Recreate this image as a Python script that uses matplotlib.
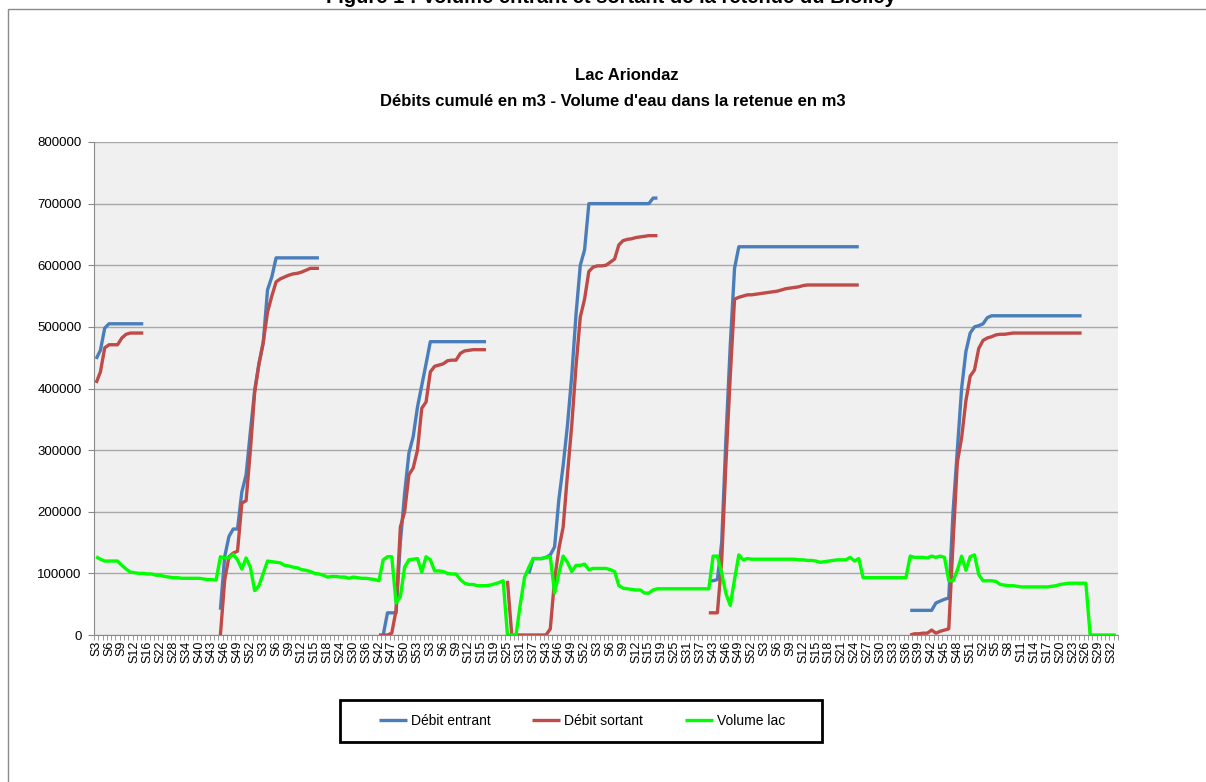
import numpy as np
import matplotlib.pyplot as plt
from matplotlib.lines import Line2D
from matplotlib.patches import Rectangle

plt.rcParams['font.family'] = ['Liberation Sans', 'DejaVu Sans']

# numéros de semaine, saison par saison
saison1 = list(range(3, 15)) + [16, 18, 20, 22, 24, 26, 28, 30, 32, 34, 36, 38, 40] \
    + list(range(41, 53)) + [1, 2]
saison2 = list(range(3, 19)) + [20, 22, 24, 26, 28, 30, 32, 34, 36, 38, 40, 42, 44, 46] \
    + list(range(47, 54)) + [1, 2]
saison3 = list(range(3, 16)) + [16, 18, 19, 21, 23, 25, 27, 29, 31, 33, 35, 37, 39, 41, 43] \
    + list(range(44, 53)) + [1, 2]
saison4 = list(saison3)
saison5 = list(range(3, 53))
saison6 = list(range(1, 34))
semaines = saison1 + saison2 + saison3 + saison4 + saison5 + saison6

# débit entrant cumulé (m3)
debit_entrant = (
    [448000, 462000, 498000] + [505000] * 9
    + [None] * 17
    + [41000, 127000, 160000, 172000, 172000, 232000, 260000, 330000, 397000, 440000,
       474000, 560000, 581000] + [612000] * 11
    + [None] * 14
    + [0, 36000, 36000, 36000, 150000, 230000, 295000, 322000, 370000, 405000, 440000]
    + [476000] * 14
    + [None] * 9
    + [100000, 124000, 124000, 124000, 126000, 130000, 143000, 220000, 275000, 340000,
       420000, 520000, 600000, 625000] + [700000] * 15 + [709000, 709000]
    + [None] * 11
    + [88000, 88000, 90000, 150000, 320000, 470000, 595000] + [630000] * 29
    + [None] * 11
    + [40000] * 6 + [52000, 55000, 58000, 60000, 200000, 300000, 400000, 460000, 490000,
                     500000, 502000, 505000, 515000] + [518000] * 22
    + [None] * 8
)

# débit sortant cumulé (m3)
debit_sortant = (
    [409000, 427000, 466000, 471000, 471000, 471000, 482000, 488000] + [490000] * 4
    + [None] * 17
    + [0, 89000, 127000, 133000, 136000, 214000, 218000, 300000, 394000, 440000,
       475000, 524000, 550000, 573000, 578000, 581000, 584000, 586000, 587000, 589000,
       592000, 595000, 595000, 595000]
    + [None] * 13
    + [0, 0, 0, 3000, 40000, 175000, 200000, 260000, 271000, 300000, 368000, 378000,
       427000, 436000, 438000, 440000, 445000, 446000, 446000, 457000, 461000, 462000,
       463000, 463000, 463000, 463000]
    + [None] * 4
    + [88000] + [0] * 9
    + [10000, 90000, 140000, 175000, 260000, 340000, 436000, 516000, 545000, 590000,
       597000, 599000, 599000, 600000, 605000, 610000, 633000, 640000, 642000, 643000,
       645000, 646000, 647000, 648000, 648000, 648000]
    + [None] * 11
    + [36000, 36000, 36000, 120000, 280000, 420000, 545000, 548000, 550000, 552000,
       552000, 553000, 554000, 555000, 556000, 557000, 558000, 560000, 562000, 563000,
       564000, 565000, 567000] + [568000] * 13
    + [None] * 11
    + [0, 2000, 2000, 3000, 3000, 8000, 3000, 6000, 8000, 10000,
       150000, 280000, 320000, 380000, 420000, 430000, 465000, 478000, 482000, 484000,
       487000, 488000, 488000, 489000] + [490000] * 17
    + [None] * 8
)

# volume d'eau dans la retenue (m3)
volume_lac = [
    127000, 123000, 120000, 120000, 120000, 120000, 113000, 107000, 102000, 101000,
    100000, 100000, 99000, 99000, 97000, 97000, 95000, 94000, 93000, 93000,
    92000, 92000, 92000, 92000, 92000, 91000, 90000, 90000, 89000, 127000,
    125000, 125000, 131000, 122000, 107000, 125000, 110000, 72000, 80000, 100000,
    120000, 119000, 118000, 117000, 113000, 112000, 110000, 109000, 106000, 105000,
    103000, 100000, 99000, 97000, 94000, 95000, 95000, 94000, 94000, 92000,
    94000, 93000, 92000, 92000, 91000, 90000, 88000, 122000, 127000, 127000,
    52000, 62000, 110000, 122000, 123000, 124000, 102000, 127000, 122000, 104000,
    104000, 103000, 100000, 99000, 99000, 90000, 84000, 82000, 82000, 80000,
    80000, 80000, 81000, 83000, 85000, 88000, 0, 0, 0, 50000,
    94000, 110000, 124000, 124000, 124000, 126000, 127000, 68000, 100000, 128000,
    118000, 103000, 113000, 113000, 115000, 106000, 108000, 108000, 108000, 108000,
    106000, 103000, 80000, 76000, 75000, 74000, 73000, 73000, 68000, 68000,
    73000, 75000, 75000, 75000, 75000, 75000, 75000, 75000, 75000, 75000,
    75000, 75000, 75000, 75000, 128000, 128000, 100000, 67000, 48000, 90000,
    130000, 122000, 124000, 123000, 123000, 123000, 123000, 123000, 123000, 123000,
    123000, 123000, 123000, 123000, 122000, 122000, 121000, 121000, 120000, 118000,
    119000, 120000, 121000, 122000, 122000, 122000, 126000, 120000, 124000, 93000,
    93000, 93000, 93000, 93000, 93000, 93000, 93000, 93000, 93000, 93000,
    128000, 126000, 126000, 126000, 125000, 128000, 126000, 128000, 126000, 88000,
    88000, 105000, 128000, 105000, 127000, 130000, 98000, 88000, 88000, 88000,
    87000, 82000, 81000, 80000, 80000, 79000, 78000, 78000, 78000, 78000,
    78000, 78000, 78000, 79000, 80000, 82000, 83000, 84000, 84000, 84000,
    84000, 84000, 0, 0, 0, 0, 0, 0, 0,
]

labels = ['S%d' % s for s in semaines]
x = np.arange(len(labels))

W, H = 1206, 782
fig = plt.figure(figsize=(W / 100, H / 100), dpi=100)

# cadre du graphique
fig.patches.append(Rectangle((8 / W, -0.1), 1.2, 1.1 - 9 / H, transform=fig.transFigure,
                             fill=False, edgecolor='#8a8a8a', lw=1))

# titre de la figure, coupé par le haut de la page
fig.text(611 / W, 1 - 3 / H, 'Figure 1 : Volume entrant et sortant de la retenue du Biolley',
         ha='center', va='baseline', fontsize=14.5, weight='bold')
fig.text(627 / W, 1 - 76 / H, 'Lac Ariondaz', ha='center', va='center',
         fontsize=12, weight='bold')
fig.text(613 / W, 1 - 101 / H, "Débits cumulé en m3 - Volume d'eau dans la retenue en m3",
         ha='center', va='center', fontsize=12, weight='bold')

ax = fig.add_axes([94 / W, 147 / H, 1024 / W, 493 / H])
ax.set_facecolor('#f0f0f0')

kw = dict(lw=2.4, solid_joinstyle='round', solid_capstyle='butt')
l1, = ax.plot(x, np.array(debit_entrant, dtype=float), color='#4a7ebb', **kw)
l2, = ax.plot(x, np.array(debit_sortant, dtype=float), color='#be4b48', **kw)
l3, = ax.plot(x, np.array(volume_lac, dtype=float), color='#00ff00', **kw)

ax.set_xlim(-0.5, len(x) - 0.5)
ax.set_ylim(0, 800000)
ax.set_yticks(np.arange(0, 800001, 100000))
ax.set_yticklabels(['%d' % v for v in np.arange(0, 800001, 100000)])
ax.yaxis.grid(True, color='#a8a8a8', lw=1)
ax.set_axisbelow(True)

ax.set_xticks(x[::3])
ax.set_xticklabels(labels[::3], rotation=90)
ax.set_xticks(np.arange(-0.5, len(x), 1), minor=True)
ax.tick_params(axis='x', which='major', length=0, pad=4, labelsize=9)
ax.tick_params(axis='x', which='minor', length=3.5, color='#8a8a8a')
ax.tick_params(axis='y', length=4, color='#8a8a8a', labelsize=9.5, pad=5)

for s in ['top', 'right']:
    ax.spines[s].set_visible(False)
for s in ['left', 'bottom']:
    ax.spines[s].set_color('#8a8a8a')

# légende dans un cadre noir
fig.patches.append(Rectangle((340 / W, 1 - 742 / H), 482 / W, 42 / H,
                             transform=fig.transFigure, fill=False,
                             edgecolor='black', lw=2))
fig.legend([l1, l2, l3], ['Débit entrant', 'Débit sortant', 'Volume lac'],
           loc='center', bbox_to_anchor=(582 / W, 1 - 721 / H), ncol=3,
           frameon=False, fontsize=10, handlelength=2.0, handletextpad=0.3,
           columnspacing=3.0)

fig.savefig('out.png', dpi=100)
